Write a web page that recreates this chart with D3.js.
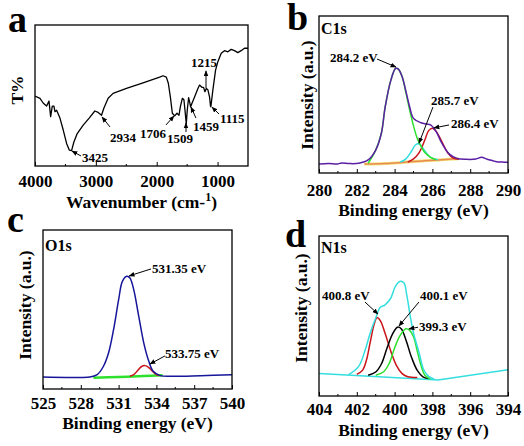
<!DOCTYPE html>
<html><head><meta charset="utf-8">
<script src="https://cdn.jsdelivr.net/npm/d3@7"></script>
<style>
html,body{margin:0;padding:0;background:#fff;}
svg text{font-family:"Liberation Serif","Times New Roman","DejaVu Serif",serif !important;font-weight:bold;}
</style></head>
<body>
<svg id="chart" width="524" height="446"></svg>
<script>
// ---------- DATA ----------
// Panel a: FTIR  [wavenumber cm-1, T%]
const ftirSpectrum = [[4000,49.6],[3918,48],[3863,44.5],[3809,42.5],[3770,46],[3743,35],[3716,42.5],[3689,42.5],[3672,38.5],[3645,39.5],[3590,34],[3536,25.5],[3481,16],[3437,11.3],[3399,10.9],[3361,17],[3306,23],[3208,29],[3110,34],[3017,39],[2962,38],[2907,36],[2869,41],[2798,48],[2717,51.5],[2497,55],[2225,59],[1951,63],[1897,64],[1842,63],[1809,58.7],[1776,49],[1743,37.4],[1705,35.5],[1667,37.4],[1634,36],[1612,42],[1579,48],[1553,47],[1536,39.7],[1514,30],[1498,39.7],[1476,48.4],[1460,45.6],[1443,42],[1422,44.4],[1378,49],[1323,55],[1296,57.4],[1258,55.8],[1230,55.8],[1208,52.7],[1186,55],[1159,54],[1132,49],[1116,42.5],[1110,42],[1077,54],[1033,68],[995,74],[940,80],[886,81.8],[831,81],[776,82.7],[722,81.8],[667,80.4],[613,81.8],[558,83.5],[500,83.5]];
const ftirTicks = [4000,3000,2000,1000];
const ftirPeaks = ["3425","2934","1706","1509","1459","1115","1215"];

// Panel b: C1s  [binding energy eV, intensity a.u.]
const c1sEnvelope = [[280,0.057],[280.5,0.06],[281,0.058],[281.2,0.064],[281.6,0.06],[282.1,0.062],[282.6,0.083],[283.0,0.146],[283.3,0.253],[283.5,0.42],[283.8,0.59],[284.06,0.667],[284.2,0.662],[284.4,0.613],[284.6,0.52],[284.8,0.42],[285.0,0.348],[285.4,0.32],[285.7,0.312],[285.9,0.306],[286.2,0.263],[286.5,0.19],[286.9,0.12],[287.3,0.093],[287.8,0.087],[288.3,0.089],[288.6,0.1],[288.9,0.087],[289.2,0.078],[289.4,0.072],[289.7,0.07],[290,0.068]];
const c1sPeak1 = [[282.6,0.062],[283.0,0.146],[283.3,0.253],[283.5,0.42],[283.8,0.59],[284.06,0.667],[284.2,0.662],[284.4,0.613],[284.6,0.51],[284.8,0.40],[285.0,0.30],[285.2,0.22],[285.4,0.17],[285.6,0.13],[285.9,0.10],[286.2,0.085]];
const c1sPeak2 = [[284.3,0.07],[284.6,0.09],[284.9,0.14],[285.1,0.178],[285.25,0.186],[285.4,0.175],[285.6,0.14],[285.9,0.10],[286.3,0.085]];
const c1sPeak3 = [[284.7,0.07],[285.0,0.09],[285.3,0.13],[285.6,0.21],[285.8,0.27],[286.0,0.285],[286.2,0.265],[286.5,0.2],[286.8,0.13],[287.1,0.095],[287.4,0.088]];
const c1sBackground = [[282.4,0.057],[283.5,0.06],[284.5,0.068],[285.5,0.077],[286.5,0.085],[287.4,0.09]];
const c1sTicks = [280,282,284,286,288,290];

// Panel c: O1s
const o1sEnvelope = [[525,0.075],[526.85,0.073],[528.7,0.075],[529.3,0.09],[529.8,0.143],[530.2,0.226],[530.6,0.373],[531.0,0.56],[531.3,0.677],[531.65,0.709],[531.9,0.698],[532.2,0.625],[532.6,0.457],[533.0,0.289],[533.4,0.174],[533.75,0.111],[534.3,0.084],[535.3,0.08],[537.5,0.084],[540,0.09]];
const o1sPeak2 = [[531.9,0.08],[532.2,0.09],[532.5,0.115],[532.8,0.14],[533.1,0.147],[533.4,0.135],[533.7,0.11],[534.0,0.09],[534.2,0.085]];
const o1sBackground = [[529.0,0.071],[531.0,0.076],[533.0,0.081],[534.5,0.086]];
const o1sTicks = [525,528,531,534,537,540];

// Panel d: N1s
const n1sEnvelope = [[402.43,0.133],[401.9,0.185],[401.55,0.29],[401.29,0.394],[401.0,0.4875],[400.76,0.554],[400.5,0.57],[400.2,0.6125],[399.96,0.685],[399.7,0.717],[399.5,0.706],[399.36,0.633],[399.17,0.498],[399.0,0.394],[398.7,0.269],[398.46,0.164],[398.2,0.123],[397.9,0.105]];
const n1sBackground = [[404,0.14],[397.7,0.1],[394,0.164]];
const n1sPeak1 = [[402.0,0.135],[401.7,0.16],[401.5,0.22],[401.3,0.33],[401.1,0.44],[400.93,0.49],[400.75,0.47],[400.5,0.39],[400.2,0.28],[399.9,0.19],[399.6,0.14],[399.3,0.12],[398.8,0.115]];
const n1sPeak2 = [[401.4,0.13],[401.0,0.15],[400.7,0.2],[400.4,0.3],[400.1,0.39],[399.85,0.43],[399.65,0.42],[399.4,0.35],[399.1,0.24],[398.8,0.16],[398.5,0.12],[398.2,0.11]];
const n1sPeak3 = [[401.0,0.13],[400.6,0.15],[400.3,0.2],[400.0,0.3],[399.7,0.38],[399.4,0.42],[399.2,0.41],[399.0,0.37],[398.8,0.28],[398.6,0.19],[398.4,0.13],[398.1,0.105]];
const n1sTicks = [404,402,400,398,396,394];

// ---------- DRAWING ----------
const FONT = "'Liberation Serif','Times New Roman','DejaVu Serif',serif";
const svg = d3.select("#chart");
const defs = svg.append("defs");
defs.append("marker").attr("id","arr").attr("viewBox","0 0 10 10").attr("refX",9).attr("refY",5)
  .attr("markerWidth",6).attr("markerHeight",6).attr("orient","auto-start-reverse")
  .append("path").attr("d","M0,1 L10,5 L0,9 z").attr("fill","#000");

function panel(cfg){
  const g = svg.append("g").attr("font-family",FONT).attr("font-weight","bold");
  const x = d3.scaleLinear().domain(cfg.xDomain).range([cfg.left, cfg.right]);
  const y = d3.scaleLinear().domain(cfg.yDomain).range([cfg.bottom, cfg.top]);
  const clipId = "clip"+cfg.letter;
  defs.append("clipPath").attr("id",clipId).append("rect")
    .attr("x",cfg.left).attr("y",cfg.top).attr("width",cfg.right-cfg.left).attr("height",cfg.bottom-cfg.top);
  const plot = g.append("g").attr("clip-path",`url(#${clipId})`);
  cfg.series.forEach(s=>{
    const line = d3.line().x(d=>x(d[0])).y(d=>y(d[1])).curve(s.curve||d3.curveCatmullRom.alpha(0.5));
    plot.append("path").datum(s.data).attr("d",line).attr("fill","none")
      .attr("stroke",s.color).attr("stroke-width",s.width||1.5).attr("stroke-linejoin","round");
  });
  g.append("rect").attr("x",cfg.left).attr("y",cfg.top).attr("width",cfg.right-cfg.left)
    .attr("height",cfg.bottom-cfg.top).attr("fill","none").attr("stroke","#000").attr("stroke-width",1.3);
  const ax = d3.axisBottom(x).tickValues(cfg.ticks).tickSize(-4).tickPadding(0).tickFormat(d3.format("d"));
  const axg = g.append("g").attr("transform",`translate(0,${cfg.bottom})`).call(ax);
  axg.attr("font-family",FONT).attr("font-size",17);
  axg.select(".domain").remove();
  axg.selectAll("line").attr("stroke","#000").attr("stroke-width",1);
  axg.selectAll("text").attr("y",cfg.tickLabelY-cfg.bottom).attr("dy","0.35em")
    .attr("font-size",17).attr("fill","#000");
  const minor = [];
  for(let i=0;i<cfg.ticks.length-1;i++) minor.push((cfg.ticks[i]+cfg.ticks[i+1])/2);
  g.selectAll(null).data(minor).enter().append("line")
    .attr("x1",d=>x(d)).attr("x2",d=>x(d)).attr("y1",cfg.bottom).attr("y2",cfg.bottom-2)
    .attr("stroke","#000").attr("stroke-width",1);
  const xt = g.append("text").attr("x",(cfg.left+cfg.right)/2).attr("y",cfg.xTitleY)
    .attr("text-anchor","middle").attr("dominant-baseline","central").attr("font-size",17.5);
  cfg.xTitle(xt);
  g.append("text").attr("transform",`translate(${cfg.yTitleX},${cfg.yTitleY}) rotate(-90)`)
    .attr("text-anchor","middle").attr("dominant-baseline","central").attr("font-size",17.5).text(cfg.yTitle);
  g.append("text").attr("x",cfg.letterX).attr("y",cfg.letterY).attr("font-size",38).text(cfg.letter);
  if(cfg.inner) g.append("text").attr("x",x(cfg.inner[1])).attr("y",y(cfg.inner[2])).attr("font-size",16).text(cfg.inner[0]);
  (cfg.notes||[]).forEach(n=>{
    g.append("text").attr("x",x(n.tx)).attr("y",y(n.ty)).attr("font-size",13).text(n.text);
    g.append("line").attr("x1",x(n.from[0])).attr("y1",y(n.from[1])).attr("x2",x(n.to[0])).attr("y2",y(n.to[1]))
      .attr("stroke","#000").attr("stroke-width",1).attr("marker-end","url(#arr)");
  });
}

const purple="#5a1fa3", green="#2ee02e", cyan="#35dede", red="#c8141a", blue="#16169a", orange="#e98a52", yellow="#f3e27a", black="#000";

panel({letter:"a", left:35, right:248, top:25, bottom:166, xDomain:[4000,500], yDomain:[0,100],
  ticks:ftirTicks, tickLabelY:181, xTitleY:202,
  xTitle: t=>{ t.append("tspan").text("Wavenumber (cm-"); t.append("tspan").attr("font-size",12).attr("dy",-5).text("1"); t.append("tspan").attr("dy",5).text(")"); },
  yTitle:"T%", yTitleX:17, yTitleY:90, letterX:8, letterY:32,
  series:[{data:ftirSpectrum,color:black,width:1.3,curve:d3.curveLinear}],
  notes:[
    {text:ftirPeaks[0], tx:3228, ty:2.8, from:[3244,7.1], to:[3392,10.6]},
    {text:ftirPeaks[1], tx:2768, ty:17, from:[2768,27.7], to:[2899,34.8]},
    {text:ftirPeaks[2], tx:2275, ty:19.9, from:[1848,29.1], to:[1716,35.5]},
    {text:ftirPeaks[3], tx:1831, ty:16.3, from:[1519,24.1], to:[1519,30.5]},
    {text:ftirPeaks[4], tx:1404, ty:24.8, from:[1355,34], to:[1437,41.8]},
    {text:ftirPeaks[5], tx:960, ty:30.5, from:[977,36.9], to:[1092,41.8]},
    {text:ftirPeaks[6], tx:1437, ty:70.2, from:[1190,55.3], to:[1190,67.4]}
  ]});

panel({letter:"b", left:319, right:508, top:16, bottom:173, xDomain:[280,290], yDomain:[0,1],
  ticks:c1sTicks, tickLabelY:190, xTitleY:210,
  xTitle: t=>t.text("Binding energy (eV)"),
  yTitle:"Intensity (a.u.)", yTitleX:307, yTitleY:95, letterX:287, letterY:30,
  inner:["C1s",280.1,0.885],
  series:[
    {data:c1sBackground,color:yellow,width:3},
    {data:c1sBackground,color:orange,width:1.5},
    {data:c1sPeak2,color:cyan},
    {data:c1sPeak3,color:red},
    {data:c1sPeak1,color:green},
    {data:c1sEnvelope,color:purple}
  ],
  notes:[
    {text:"284.2 eV", tx:280.58, ty:0.707, from:[283.07,0.726], to:[284.07,0.675]},
    {text:"285.7 eV", tx:285.93, ty:0.433, from:[286.03,0.42], to:[285.29,0.19]},
    {text:"286.4 eV", tx:286.98, ty:0.287, from:[286.88,0.306], to:[286.08,0.287]}
  ]});

panel({letter:"c", left:43, right:232, top:230, bottom:389, xDomain:[525,540], yDomain:[0,1],
  ticks:o1sTicks, tickLabelY:403, xTitleY:423,
  xTitle: t=>t.text("Binding energy (eV)"),
  yTitle:"Intensity (a.u.)", yTitleX:25, yTitleY:305, letterX:7, letterY:232,
  inner:["O1s",525.16,0.868],
  series:[
    {data:o1sBackground,color:green,width:2.5},
    {data:o1sPeak2,color:red},
    {data:o1sEnvelope,color:blue}
  ],
  notes:[
    {text:"531.35 eV", tx:533.65, ty:0.73, from:[533.57,0.755], to:[531.83,0.711]},
    {text:"533.75 eV", tx:534.68, ty:0.195, from:[534.68,0.208], to:[533.49,0.157]}
  ]});

panel({letter:"d", left:319, right:508, top:236, bottom:396, xDomain:[404,394], yDomain:[0,1],
  ticks:n1sTicks, tickLabelY:409, xTitleY:430,
  xTitle: t=>t.text("Binding energy (eV)"),
  yTitle:"Intensity (a.u.)", yTitleX:301, yTitleY:308, letterX:285, letterY:247,
  inner:["N1s",403.9,0.894],
  series:[
    {data:n1sBackground,color:cyan,width:1.5,curve:d3.curveLinear},
    {data:n1sPeak1,color:red},
    {data:n1sPeak2,color:black},
    {data:n1sPeak3,color:green},
    {data:n1sEnvelope,color:cyan}
  ],
  notes:[
    {text:"400.8 eV", tx:403.84, ty:0.6, from:[401.57,0.5875], to:[400.88,0.5125]},
    {text:"400.1 eV", tx:398.66, ty:0.6, from:[398.71,0.5875], to:[399.77,0.4375]},
    {text:"399.3 eV", tx:398.71, ty:0.406, from:[398.76,0.43], to:[399.24,0.419]}
  ]});
</script>
</body></html>
